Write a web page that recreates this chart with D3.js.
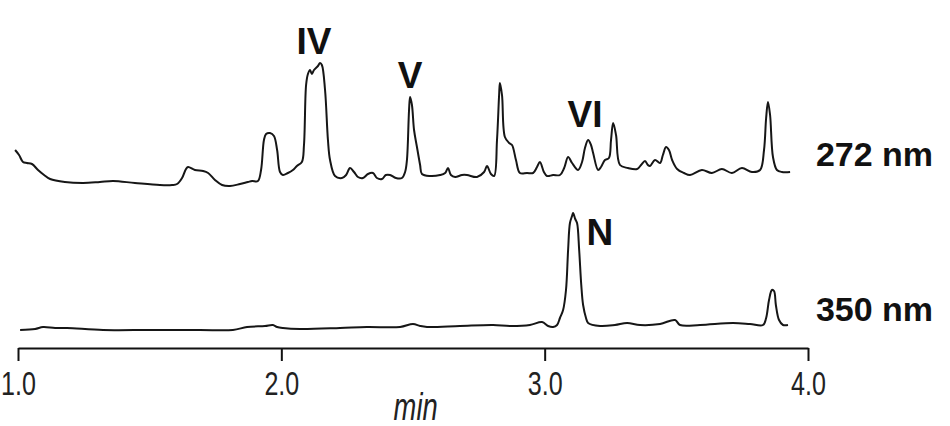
<!DOCTYPE html>
<html>
<head>
<meta charset="utf-8">
<script src="https://cdn.jsdelivr.net/npm/d3@7"></script>
<style>
  body { margin: 0; background: #fff; }
  .trace { fill: none; stroke: #161616; stroke-width: 2; stroke-linejoin: round; }
  .axis path, .axis line { stroke: #111; stroke-width: 2; }
  .axis text { font-family: "Liberation Sans", Arial, sans-serif; font-size: 33px; fill: #222; }
  .peak { font-family: "Liberation Sans", Arial, sans-serif; font-weight: bold; font-size: 37px; fill: #111; }
  .wl { font-family: "Liberation Sans", Arial, sans-serif; font-weight: bold; font-size: 34px; fill: #111; }
  .xlabel { font-family: "Liberation Sans", Arial, sans-serif; font-style: italic; font-size: 38px; fill: #222; }
</style>
</head>
<body>
<div class="chromatogram"></div>
<script>
// retention time (min), signal (arbitrary units)
var trace272 = [
  [0.989, 40], [1.004, 35], [1.019, 28], [1.034, 27], [1.053, 26], [1.076, 20], [1.099, 15],
  [1.122, 11], [1.178, 8], [1.247, 7], [1.311, 8], [1.361, 9], [1.444, 7], [1.539, 5],
  [1.585, 5], [1.604, 6], [1.623, 12], [1.638, 21], [1.646, 23], [1.672, 20], [1.703, 19],
  [1.722, 17], [1.748, 10], [1.775, 5], [1.805, 4], [1.843, 6], [1.873, 8], [1.889, 9],
  [1.911, 9], [1.923, 20], [1.934, 50], [1.942, 56], [1.957, 57], [1.972, 54], [1.984, 40],
  [1.995, 18], [2.006, 15], [2.025, 17], [2.044, 20], [2.059, 24], [2.078, 28], [2.086, 45],
  [2.094, 105], [2.101, 116], [2.109, 120], [2.116, 116], [2.124, 120], [2.139, 124],
  [2.147, 127], [2.154, 125], [2.166, 100], [2.177, 50], [2.185, 30], [2.204, 14], [2.230, 12],
  [2.246, 15], [2.261, 22], [2.276, 18], [2.291, 13], [2.310, 12], [2.329, 16], [2.348, 17],
  [2.363, 12], [2.382, 11], [2.397, 15], [2.413, 15], [2.435, 12], [2.458, 12], [2.470, 18],
  [2.477, 30], [2.485, 80], [2.489, 93], [2.496, 85], [2.504, 60], [2.515, 43], [2.527, 25],
  [2.534, 16], [2.565, 14], [2.603, 15], [2.622, 17], [2.633, 22], [2.644, 15], [2.660, 13],
  [2.686, 15], [2.705, 15], [2.743, 13], [2.770, 18], [2.781, 24], [2.796, 16], [2.808, 14],
  [2.819, 50], [2.827, 95], [2.830, 107], [2.838, 95], [2.849, 53], [2.865, 47], [2.876, 45],
  [2.891, 30], [2.906, 17], [2.933, 17], [2.956, 17], [2.971, 23], [2.982, 28], [2.997, 18],
  [3.009, 14], [3.032, 15], [3.058, 15], [3.074, 22], [3.089, 33], [3.104, 27], [3.127, 20],
  [3.142, 28], [3.153, 42], [3.165, 50], [3.176, 45], [3.184, 37], [3.203, 20], [3.214, 23],
  [3.229, 30], [3.244, 32], [3.252, 50], [3.260, 67], [3.271, 55], [3.286, 25], [3.316, 22],
  [3.351, 21], [3.366, 25], [3.381, 29], [3.392, 25], [3.400, 24], [3.419, 30], [3.438, 27],
  [3.449, 35], [3.461, 43], [3.472, 40], [3.484, 30], [3.503, 21], [3.529, 17], [3.552, 15],
  [3.597, 20], [3.635, 17], [3.673, 21], [3.711, 17], [3.749, 22], [3.787, 18], [3.818, 20],
  [3.833, 40], [3.841, 72], [3.848, 88], [3.856, 75], [3.867, 33], [3.882, 20], [3.901, 18],
  [3.932, 18]
];

var trace350 = [
  [1.008, 3], [1.065, 4], [1.095, 6], [1.141, 5], [1.186, 5], [1.323, 3], [1.501, 3],
  [1.691, 3], [1.816, 3], [1.870, 6], [1.938, 7], [1.968, 8], [1.984, 6], [2.006, 5],
  [2.071, 4], [2.223, 5], [2.325, 6], [2.451, 6], [2.500, 9], [2.527, 7], [2.553, 6],
  [2.678, 7], [2.804, 8], [2.868, 7], [2.944, 8], [2.990, 11], [3.013, 7], [3.032, 6],
  [3.047, 8], [3.058, 15], [3.070, 23], [3.081, 43], [3.089, 83], [3.096, 110], [3.104, 117],
  [3.108, 120], [3.116, 114], [3.123, 110], [3.131, 83], [3.139, 48], [3.146, 28],
  [3.157, 15], [3.165, 10], [3.210, 7], [3.267, 8], [3.313, 10], [3.362, 8], [3.438, 9],
  [3.495, 13], [3.514, 8], [3.590, 8], [3.715, 10], [3.780, 9], [3.829, 8], [3.841, 15],
  [3.852, 33], [3.863, 43], [3.871, 42], [3.878, 28], [3.890, 13], [3.905, 8], [3.924, 8]
];

var X_TICKS = [1.0, 2.0, 3.0, 4.0];

// peak labels: name, time, signal height, trace
var PEAK_NAMES = ['IV', 'V', 'VI', 'N'];
var PEAK_TIMES = [2.124, 2.489, 3.153, 3.210];
var PEAK_LEVELS = [136, 102, 63, 88];
var PEAK_TRACE = ['272', '272', '272', '350'];

var WAVELENGTHS = ['272 nm', '350 nm'];
var WL_LEVELS = [24, 12];

var width = 950, height = 426;
var NARROW = "scale(0.76,1)";

var svg = d3.select(".chromatogram").append("svg")
  .attr("width", width)
  .attr("height", height);

var x = d3.scaleLinear().domain([1, 4]).range([18, 808]);

// each trace gets its own band, same gain
var yTop = d3.scaleLinear().domain([0, 130]).range([190, 60]);
var yBottom = d3.scaleLinear().domain([0, 130]).range([333, 203]);

var line = function (y) {
  return d3.line()
    .x(function (d) { return x(d[0]); })
    .y(function (d) { return y(d[1]); })
    .curve(d3.curveCatmullRom.alpha(0.5));
};

svg.append("path")
  .datum(trace272)
  .attr("class", "trace")
  .attr("d", line(yTop));

svg.append("path")
  .datum(trace350)
  .attr("class", "trace")
  .attr("d", line(yBottom));

// X axis
var xAxis = d3.axisBottom(x)
  .tickValues(X_TICKS)
  .tickFormat(d3.format(".1f"))
  .tickSizeInner(13)
  .tickSizeOuter(0)
  .tickPadding(11);

var gx = svg.append("g")
  .attr("class", "axis")
  .attr("transform", "translate(0,348)")
  .call(xAxis);

// condensed look of the original tick font
gx.selectAll(".tick text").attr("transform", NARROW);

svg.append("g")
  .attr("transform", "translate(" + x(2.51) + ",420)")
  .append("text")
  .attr("class", "xlabel")
  .attr("transform", "scale(0.72,1)")
  .style("text-anchor", "middle")
  .text("min");

// peak names
svg.selectAll(".peak")
  .data(PEAK_NAMES)
  .enter().append("text")
  .attr("class", "peak")
  .attr("x", function (d, i) { return x(PEAK_TIMES[i]); })
  .attr("y", function (d, i) {
    var y = PEAK_TRACE[i] === '272' ? yTop : yBottom;
    return y(PEAK_LEVELS[i]);
  })
  .style("text-anchor", "middle")
  .text(function (d) { return d; });

// wavelength labels
svg.selectAll(".wl")
  .data(WAVELENGTHS)
  .enter().append("text")
  .attr("class", "wl")
  .attr("x", x(4.03))
  .attr("y", function (d, i) { return (i === 0 ? yTop : yBottom)(WL_LEVELS[i]); })
  .text(function (d) { return d; });
</script>
</body>
</html>
